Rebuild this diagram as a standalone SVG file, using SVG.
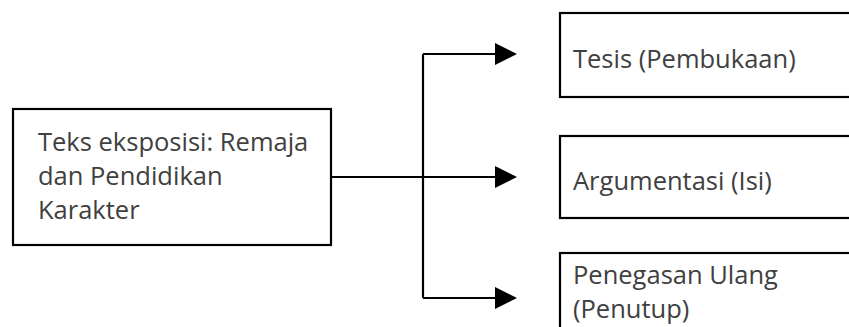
<svg xmlns="http://www.w3.org/2000/svg" width="849" height="327" viewBox="0 0 849 327">
<style>
.box{fill:#fff;stroke:#000;stroke-width:2.2}
.t{font-family:"Open Sans","Noto Sans",sans-serif;font-size:25.5px;fill:#404040}
.c{fill:none;stroke:#000;stroke-width:2.2}
</style>
<defs>
<marker id="ah" markerUnits="userSpaceOnUse" markerWidth="22" markerHeight="22" refX="0" refY="11" orient="auto" viewBox="0 0 22 22">
<path d="M0,0 L22,11 L0,22 Z" fill="#000"/>
</marker>
</defs>
<rect width="849" height="327" fill="#fff"/>
<g id="connectors">
<path class="c" d="M331,177 H423"/>
<path class="c" d="M423,54 V298"/>
<path class="c" d="M423,54 H495" marker-end="url(#ah)"/>
<path class="c" d="M423,177 H495" marker-end="url(#ah)"/>
<path class="c" d="M423,298 H495" marker-end="url(#ah)"/>
</g>
<g id="node-main">
<rect class="box" x="13" y="109" width="318" height="136"/>
<text class="t" x="38" y="151">Teks eksposisi: Remaja</text>
<text class="t" x="38" y="185">dan Pendidikan</text>
<text class="t" x="38" y="219">Karakter</text>
</g>
<g id="node-tesis">
<rect class="box" x="560" y="13" width="300" height="84"/>
<text class="t" x="573" y="68">Tesis (Pembukaan)</text>
</g>
<g id="node-argumentasi">
<rect class="box" x="560" y="136" width="300" height="82"/>
<text class="t" x="573" y="190">Argumentasi (Isi)</text>
</g>
<g id="node-penegasan">
<rect class="box" x="560" y="253" width="300" height="100"/>
<text class="t" x="573" y="284">Penegasan Ulang</text>
<text class="t" x="573" y="318">(Penutup)</text>
</g>
</svg>
